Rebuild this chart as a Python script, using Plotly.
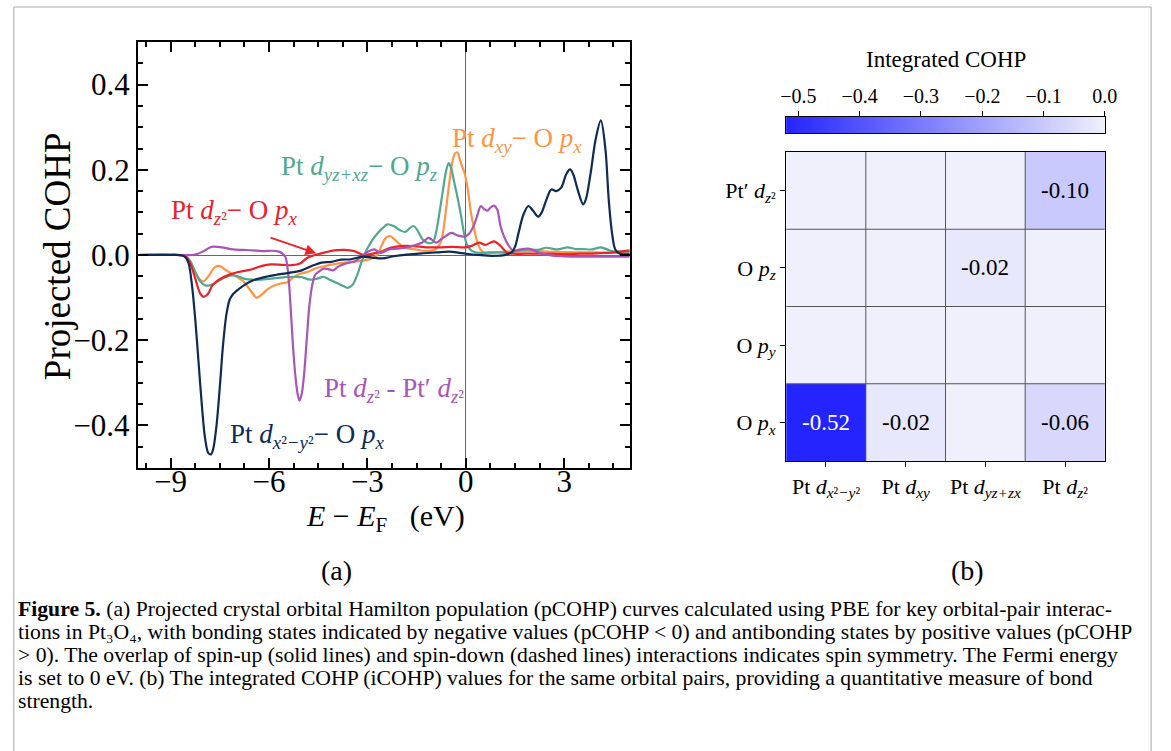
import plotly.graph_objects as go
import numpy as np

W, H = 1171, 751
FONT = "Liberation Serif"

# ---------------- Panel (a): projected COHP curves ----------------
navy_E = [-10, -9.0, -8.7, -8.55, -8.45, -8.35, -8.25, -8.15, -8.05, -7.95, -7.85, -7.77, -7.7, -7.6, -7.5,
          -7.4, -7.3, -7.2, -7.1, -7.0, -6.8, -6.5, -6.2, -5.8, -5.4, -5.0, -4.7, -4.4, -4.1, -3.8, -3.5,
          -3.15, -2.85, -2.55, -2.2, -1.8, -1.35, -0.9, -0.5, -0.2, 0.0, 0.4, 0.8, 1.2, 1.41, 1.51, 1.61,
          1.76, 1.91, 2.06, 2.21, 2.31, 2.46, 2.61, 2.76, 2.91, 3.06, 3.18, 3.28, 3.41, 3.58, 3.66, 3.81,
          3.96, 4.12, 4.26, 4.36, 4.46, 4.56, 4.7, 5.0]
navy_v = [0, 0, 0, -0.005, -0.02, -0.07, -0.15, -0.25, -0.35, -0.43, -0.465, -0.468, -0.455, -0.40, -0.31,
          -0.21, -0.14, -0.105, -0.092, -0.085, -0.073, -0.060, -0.053, -0.047, -0.042, -0.036, -0.026,
          -0.018, -0.016, -0.011, -0.010, -0.004, -0.006, -0.008, -0.003, 0.001, 0.004, 0.006, 0.008, 0.005,
          0.003, 0.0, -0.002, 0.0, 0.007, 0.021, 0.052, 0.095, 0.115, 0.103, 0.090, 0.099, 0.130, 0.154,
          0.150, 0.158, 0.189, 0.201, 0.189, 0.154, 0.119, 0.130, 0.193, 0.271, 0.316, 0.248, 0.130, 0.052,
          0.013, 0.003, 0.002]

red_E = [-10, -8.8, -8.55, -8.4, -8.25, -8.1, -7.99, -7.85, -7.74, -7.6, -7.44, -7.2, -6.94, -6.54, -6.24,
         -5.94, -5.6, -5.3, -5.05, -4.84, -4.6, -4.3, -4.0, -3.7, -3.4, -3.1, -2.8, -2.54, -2.3, -2.0, -1.6,
         -1.2, -0.8, -0.4, 0.0, 0.2, 0.41, 0.6, 0.86, 1.05, 1.25, 1.45, 1.8, 2.5, 3.0, 3.5, 4.0, 4.5, 5.0]
red_v = [0, 0, -0.003, -0.02, -0.055, -0.09, -0.098, -0.09, -0.073, -0.062, -0.054, -0.046, -0.040, -0.034,
         -0.026, -0.022, -0.023, -0.024, -0.020, -0.007, 0.0, 0.006, 0.011, 0.012, 0.009, 0.0, 0.004, 0.009,
         0.017, 0.021, 0.021, 0.018, 0.018, 0.019, 0.018, 0.022, 0.029, 0.024, 0.032, 0.022, 0.006, 0.003,
         0.003, 0.003, 0.002, 0.003, 0.004, 0.006, 0.011]

teal_E = [-10, -8.8, -8.55, -8.4, -8.25, -8.1, -7.95, -7.85, -7.7, -7.54, -7.35, -7.14, -6.95, -6.74, -6.5,
          -6.24, -6.0, -5.74, -5.5, -5.24, -5.0, -4.74, -4.5, -4.34, -4.15, -3.94, -3.75, -3.6, -3.45, -3.3,
          -3.15, -3.0, -2.85, -2.7, -2.55, -2.39, -2.2, -2.0, -1.85, -1.72, -1.59, -1.45, -1.3, -1.15, -1.0,
          -0.9, -0.8, -0.7, -0.6, -0.52, -0.45, -0.35, -0.25, -0.15, -0.05, 0.05, 0.2, 0.4, 0.7, 1.0, 1.3,
          1.6, 1.91, 2.2, 2.46, 2.8, 3.11, 3.35, 3.56, 3.85, 4.12, 4.35, 4.55, 4.8, 5.0]
teal_v = [0, 0, -0.003, -0.015, -0.04, -0.062, -0.071, -0.072, -0.068, -0.061, -0.053, -0.048, -0.050, -0.056,
          -0.058, -0.058, -0.056, -0.054, -0.052, -0.051, -0.052, -0.058, -0.055, -0.051, -0.058, -0.065,
          -0.072, -0.077, -0.07, -0.045, -0.01, 0.015, 0.035, 0.050, 0.062, 0.072, 0.068, 0.058, 0.054, 0.062,
          0.068, 0.055, 0.035, 0.028, 0.03, 0.055, 0.10, 0.15, 0.197, 0.216, 0.205, 0.17, 0.135, 0.095, 0.05,
          0.022, 0.009, 0.005, 0.006, 0.006, 0.005, 0.01, 0.013, 0.012, 0.017, 0.013, 0.018, 0.014, 0.014,
          0.013, 0.018, 0.012, 0.008, 0.008, 0.008]

orange_E = [-10, -8.8, -8.55, -8.4, -8.25, -8.1, -7.99, -7.85, -7.64, -7.5, -7.34, -7.2, -7.04, -6.89, -6.74,
            -6.55, -6.38, -6.25, -6.04, -5.85, -5.65, -5.44, -5.25, -5.05, -4.84, -4.6, -4.3, -4.04, -3.7,
            -3.34, -3.05, -2.84, -2.7, -2.55, -2.44, -2.3, -2.15, -1.94, -1.75, -1.54, -1.3, -1.14, -0.94,
            -0.84, -0.74, -0.64, -0.55, -0.49, -0.4, -0.33, -0.26, -0.18, -0.1, -0.04, 0.05, 0.16, 0.26, 0.36,
            0.46, 0.56, 0.8, 1.2, 1.6, 2.0, 2.5, 3.0, 3.5, 4.0, 4.5, 5.0]
orange_v = [0, 0, -0.003, -0.015, -0.04, -0.058, -0.062, -0.05, -0.028, -0.026, -0.034, -0.041, -0.048, -0.056,
            -0.065, -0.085, -0.100, -0.095, -0.080, -0.072, -0.067, -0.064, -0.052, -0.044, -0.040, -0.032,
            -0.026, -0.022, -0.018, -0.015, -0.012, -0.007, 0.0, 0.025, 0.040, 0.044, 0.035, 0.021, 0.015,
            0.013, 0.01, 0.009, 0.013, 0.02, 0.035, 0.083, 0.14, 0.177, 0.222, 0.238, 0.241, 0.225, 0.205,
            0.193, 0.16, 0.099, 0.06, 0.029, 0.012, 0.005, 0.005, 0.008, 0.008, 0.009, 0.008, 0.007, 0.006,
            0.006, 0.005, 0.006]

purple_E = [-10, -8.6, -8.35, -8.2, -8.0, -7.75, -7.45, -7.1, -6.8, -6.5, -6.2, -5.9, -5.7, -5.6, -5.5, -5.42,
            -5.35, -5.28, -5.2, -5.13, -5.07, -5.0, -4.93, -4.85, -4.77, -4.68, -4.6, -4.5, -4.34, -4.2, -4.04,
            -3.9, -3.74, -3.55, -3.39, -3.2, -3.04, -2.79, -2.59, -2.34, -2.1, -1.84, -1.6, -1.34, -1.14,
            -1.04, -0.89, -0.74, -0.6, -0.44, -0.25, -0.04, 0.1, 0.26, 0.36, 0.46, 0.56, 0.66, 0.76, 0.86,
            0.96, 1.06, 1.16, 1.31, 1.45, 1.6, 1.91, 2.26, 2.6, 3.0, 3.5, 4.0, 4.5, 5.0]
purple_v = [0, 0, 0, 0.002, 0.009, 0.019, 0.018, 0.013, 0.012, 0.011, 0.009, 0.010, 0.008, 0.004, -0.005,
            -0.04, -0.11, -0.20, -0.28, -0.325, -0.342, -0.325, -0.28, -0.20, -0.12, -0.07, -0.048, -0.04,
            -0.032, -0.033, -0.036, -0.028, -0.022, -0.018, -0.015, -0.005, 0.005, 0.013, 0.005, 0.013, 0.015,
            0.017, 0.022, 0.029, 0.040, 0.036, 0.029, 0.038, 0.045, 0.052, 0.046, 0.043, 0.05, 0.072, 0.095,
            0.115, 0.108, 0.104, 0.112, 0.116, 0.107, 0.068, 0.045, 0.022, 0.01, 0.012, 0.015, 0.005, -0.001,
            -0.003, -0.004, -0.004, -0.004, -0.004]

C_NAVY, C_RED, C_TEAL, C_ORANGE, C_PURPLE = "#0d2b55", "#e8232a", "#52a78f", "#ff9445", "#a756b7"

# ---------------- Panel (b): integrated COHP ----------------
col_labels = ["Pt <i>d</i><sub><i>x</i>²<i>−y</i>²</sub>", "Pt <i>d</i><sub><i>xy</i></sub>",
              "Pt <i>d</i><sub><i>yz+zx</i></sub>", "Pt <i>d</i><sub><i>z</i>²</sub>"]
row_labels = ["O <i>p</i><sub><i>x</i></sub>", "O <i>p</i><sub><i>y</i></sub>",
              "O <i>p</i><sub><i>z</i></sub>", "Pt′ <i>d</i><sub><i>z</i>²</sub>"]
icohp_px = [-0.52, -0.02, 0.0, -0.06]
icohp_py = [0.0, 0.0, 0.0, 0.0]
icohp_pz = [0.0, 0.0, -0.02, 0.0]
icohp_ptdz2 = [0.0, 0.0, 0.0, -0.10]
icohp = [icohp_px, icohp_py, icohp_pz, icohp_ptdz2]
cbar_ticks = [-0.5, -0.4, -0.3, -0.2, -0.1, 0.0]
ZMIN, ZMAX = -0.52, 0.0
CSCALE = [[0, "#2424ff"], [1, "#f0f0fc"]]

fig = go.Figure()

for E, v, c in [(orange_E, orange_v, C_ORANGE), (teal_E, teal_v, C_TEAL), (red_E, red_v, C_RED),
                (purple_E, purple_v, C_PURPLE), (navy_E, navy_v, C_NAVY)]:
    fig.add_trace(go.Scatter(x=E, y=v, mode="lines", xaxis="x", yaxis="y",
                             line=dict(color=c, width=2.2, shape="spline", smoothing=0.9),
                             showlegend=False, hoverinfo="skip"))

fig.add_trace(go.Heatmap(z=icohp, x=list(range(4)), y=list(range(4)), xaxis="x2", yaxis="y2",
                         zmin=ZMIN, zmax=ZMAX, colorscale=CSCALE, showscale=False, hoverinfo="skip"))

grad = np.linspace(ZMIN, ZMAX, 300)
fig.add_trace(go.Heatmap(z=[grad], x=grad, y=[0], xaxis="x3", yaxis="y3",
                         zmin=ZMIN, zmax=ZMAX, colorscale=CSCALE, showscale=False, hoverinfo="skip"))

def px2fx(p):
    return p / W

def py2fy(p):
    return 1 - p / H

tickfont = dict(family=FONT, size=31, color="black")
fig.update_layout(
    width=W, height=H, margin=dict(l=0, r=0, t=0, b=0),
    paper_bgcolor="white", plot_bgcolor="white", showlegend=False,
    font=dict(family=FONT, color="black"),
    xaxis=dict(domain=[px2fx(134), px2fx(634)], range=[-10, 5], tick0=0, dtick=3,
               ticks="inside", ticklen=10, tickwidth=2, tickcolor="black",
               minor=dict(dtick=0.75, ticks="inside", ticklen=5, tickwidth=1.5, tickcolor="black"),
               showline=True, linewidth=2, linecolor="black", mirror="allticks",
               zeroline=True, zerolinecolor="#666", zerolinewidth=1, showgrid=False,
               tickfont=tickfont, ticklabelstandoff=-15, anchor="y"),
    yaxis=dict(domain=[py2fy(468), py2fy(42)], range=[-0.5, 0.5], tick0=0, dtick=0.2, tickformat=".1f",
               ticks="inside", ticklen=10, tickwidth=2, tickcolor="black",
               minor=dict(dtick=0.05, ticks="inside", ticklen=5, tickwidth=1.5, tickcolor="black"),
               showline=True, linewidth=2, linecolor="black", mirror="allticks",
               zeroline=True, zerolinecolor="#666", zerolinewidth=1, showgrid=False,
               tickfont=tickfont, anchor="x"),
    xaxis2=dict(domain=[px2fx(793), px2fx(1117)], range=[-0.5, 3.5], tickvals=list(range(4)),
                ticktext=col_labels, ticks="outside", ticklen=5, tickcolor="black", showgrid=False,
                zeroline=False, showline=True, linecolor="black", linewidth=1.2, mirror=True,
                tickfont=dict(family=FONT, size=22), anchor="y2"),
    yaxis2=dict(domain=[py2fy(461), py2fy(152)], range=[-0.5, 3.5], tickvals=list(range(4)),
                ticktext=row_labels, ticks="outside", ticklen=5, tickcolor="black", showgrid=False,
                zeroline=False, showline=True, linecolor="black", linewidth=1.2, mirror=True,
                tickfont=dict(family=FONT, size=22), anchor="x2"),
    xaxis3=dict(domain=[px2fx(793), px2fx(1117)], range=[ZMIN, ZMAX], tickvals=cbar_ticks,
                tickformat=".1f", side="top", ticks="outside", ticklen=5, tickcolor="black",
                showgrid=False, zeroline=False, showline=True, linecolor="black", linewidth=1, mirror=True,
                tickfont=dict(family=FONT, size=20), anchor="y3"),
    yaxis3=dict(domain=[py2fy(133), py2fy(117)], range=[-0.5, 0.5], showticklabels=False, ticks="",
                showgrid=False, zeroline=False, showline=True, linecolor="black", linewidth=1, mirror=True,
                anchor="x3"),
)

# heatmap cell separators
for k in [0.5, 1.5, 2.5]:
    fig.add_shape(type="line", xref="x2", yref="y2", x0=k, x1=k, y0=-0.5, y1=3.5,
                  line=dict(color="#555", width=1), layer="above")
    fig.add_shape(type="line", xref="x2", yref="y2", x0=-0.5, x1=3.5, y0=k, y1=k,
                  line=dict(color="#555", width=1), layer="above")

# heatmap value labels
for r, row in enumerate(icohp):
    for c, val in enumerate(row):
        if val != 0:
            fig.add_annotation(x=c, y=r, xref="x2", yref="y2", text=f"{val:.2f}", showarrow=False,
                               font=dict(family=FONT, size=23, color="white" if val < -0.3 else "black"))

def label(text, x, y, color, size=27, xanchor="center"):
    fig.add_annotation(x=x, y=y, xref="x", yref="y", text=text, showarrow=False, xanchor=xanchor,
                       font=dict(family=FONT, size=size, color=color))

label("Pt <i>d</i><sub><i>z</i>²</sub>− O <i>p</i><sub><i>x</i></sub>", -7.05, 0.10, C_RED)
label("Pt <i>d</i><sub><i>yz+xz</i></sub>− O <i>p</i><sub><i>z</i></sub>", -3.25, 0.205, C_TEAL)
label("Pt <i>d</i><sub><i>xy</i></sub>− O <i>p</i><sub><i>x</i></sub>", 1.55, 0.27, C_ORANGE)
label("Pt <i>d</i><sub><i>z</i>²</sub> - Pt′ <i>d</i><sub><i>z</i>²</sub>", -2.2, -0.318, C_PURPLE)
label("Pt <i>d</i><sub><i>x</i>²<i>−y</i>²</sub>− O <i>p</i><sub><i>x</i></sub>", -4.85, -0.425, C_NAVY)

fig.add_annotation(x=-4.56, y=0.004, ax=-6.0, ay=0.042, xref="x", yref="y", axref="x", ayref="y",
                   text="", showarrow=True, arrowhead=2, arrowsize=1.2, arrowwidth=1.8, arrowcolor=C_RED)

def paper_text(text, xp, yp, size, xanchor="center", yanchor="middle", color="black", angle=0):
    fig.add_annotation(x=px2fx(xp), y=py2fy(yp), xref="paper", yref="paper", text=text, showarrow=False,
                       xanchor=xanchor, yanchor=yanchor, textangle=angle,
                       font=dict(family=FONT, size=size, color=color))

paper_text("Projected COHP", 52, 256, 37, angle=-90)
paper_text("<i>E</i> − <i>E</i><sub>F</sub>   (eV)", 386, 518, 30)
paper_text("Integrated COHP", 955, 60, 23)
paper_text("(a)", 336, 570, 28)
paper_text("(b)", 977, 570, 28)

caption = [
    "<b>Figure 5.</b> (a) Projected crystal orbital Hamilton population (pCOHP) curves calculated using PBE for key orbital-pair interac-",
    "tions in Pt₃O₄, with bonding states indicated by negative values (pCOHP &lt; 0) and antibonding states by positive values (pCOHP",
    "&gt; 0). The overlap of spin-up (solid lines) and spin-down (dashed lines) interactions indicates spin symmetry. The Fermi energy",
    "is set to 0 eV. (b) The integrated COHP (iCOHP) values for the same orbital pairs, providing a quantitative measure of bond",
    "strength.",
]
cap_y = [609, 632, 655, 678, 701]
for t, yy in zip(caption, cap_y):
    paper_text(t, 10, yy, 21.7, xanchor="left")

# outer frame
for x0, y0, x1, y1 in [(8, 7, 1164, 7), (8, 7, 8, 760), (1164, 7, 1164, 760)]:
    fig.add_shape(type="line", xref="paper", yref="paper", x0=px2fx(x0), y0=py2fy(y0), x1=px2fx(x1),
                  y1=py2fy(y1), line=dict(color="#aaa", width=1))

fig.write_html("out.html")
